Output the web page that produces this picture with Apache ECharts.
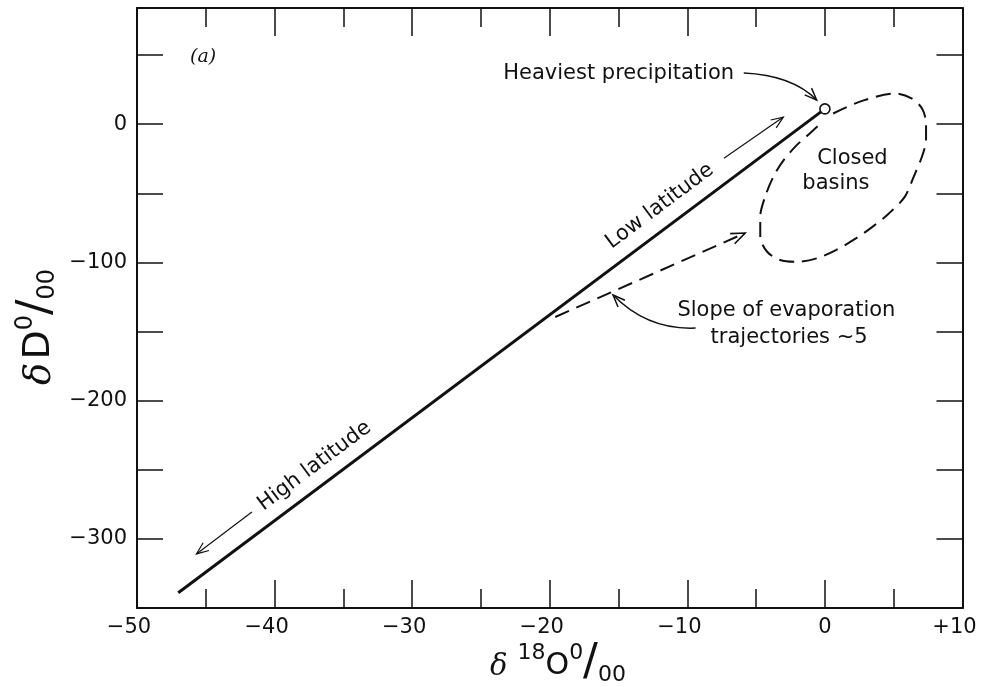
<!DOCTYPE html>
<html>
<head>
<meta charset="utf-8">
<script src="https://cdn.jsdelivr.net/npm/echarts@6/dist/echarts.min.js"></script>
<style>html,body{margin:0;padding:0;background:#fff}#main{width:991px;height:687px}</style>
</head>
<body>
<div id="main"></div>
<script>
// 轴刻度
var xTicks = [-50, -40, -30, -20, -10, 0, 10];
var xTickLabels = ['\u221250', '\u221240', '\u221230', '\u221220', '\u221210', '0', '+10'];
var yTicks = [-300, -200, -100, 0];
var yTickLabels = ['\u2212300', '\u2212200', '\u2212100', '0'];
// 曲线数据 (δ18O, δD)
var meteoricLine = [[-47, -339], [0, 11]];
var heaviestPoint = [[0, 11]];
var evapLine = [[-19.6, -139.5], [-5.8, -78.8]];
var closedBasin = [[0.6, 7.7], [2.7, 16.8], [5.1, 22.2], [6.3, 18.6], [7.05, 11.4], [7.35, 0.5], [7.35, -11.6],
    [7.05, -23.6], [6.45, -38.1], [5.8, -52.6], [4.65, -64.6], [3.45, -74.3], [2.25, -82.7], [0.8, -91.1],
    [-0.6, -97.1], [-2.05, -99.6], [-3.25, -98.3], [-4.2, -92.3], [-4.7, -81.5], [-4.7, -67.0], [-4.35, -52.6],
    [-3.75, -38.1], [-3.0, -26.0], [-2.05, -15.2], [-1.1, -6.7], [-0.3, 0.5]];

var FONT = '"DejaVu Sans", "Liberation Sans", sans-serif';
var ink = '#111';

var myChart = echarts.init(document.getElementById('main'));

function axisBase(pos, showLabel) {
    return {
        position: pos,
        type: 'value',
        axisLine: { show: true, onZero: false, lineStyle: { color: ink, width: 2 } },
        axisTick: { show: true, inside: true, length: 28, lineStyle: { color: ink, width: 1.5 } },
        splitLine: { show: false },
        axisLabel: { show: showLabel, color: ink, fontSize: 21, fontFamily: FONT, margin: 9 }
    };
}

var xBottom = axisBase('bottom', true);
xBottom.min = -50; xBottom.max = 10; xBottom.interval = 10;
xBottom.minorTick = { show: true, splitNumber: 2, length: 19, lineStyle: { color: ink, width: 1.5 } };
// 数字对准刻度，符号悬挂在左边
xBottom.axisLabel.formatter = function (v) {
    var i = xTicks.indexOf(v);
    if (i < 0) return '';
    var s = xTickLabels[i];
    return s.length > 1 && (s[0] === '\u2212' || s[0] === '+') ? '{n|' + s + '}{p| }' : '{n|' + s + '}';
};
xBottom.axisLabel.rich = {
    n: { fontSize: 21, fontFamily: FONT, color: ink },
    p: { fontSize: 21, width: 16 }
};
var xTop = axisBase('top', false);
xTop.min = -50; xTop.max = 10; xTop.interval = 10;
xTop.minorTick = { show: true, splitNumber: 2, length: 19, lineStyle: { color: ink, width: 1.5 } };

var yLeft = axisBase('left', true);
yLeft.min = -350; yLeft.max = 84; yLeft.interval = 50;
yLeft.axisTick.length = 26;
yLeft.axisLabel.margin = 10;
yLeft.axisLabel.formatter = function (v) {
    var i = yTicks.indexOf(v);
    return i < 0 ? '' : yTickLabels[i];
};
var yRight = axisBase('right', false);
yRight.min = -350; yRight.max = 84; yRight.interval = 50;
yRight.axisTick.length = 26;

var option = {
    backgroundColor: '#fff',
    animation: false,
    grid: { left: 137, right: 14, top: 8, bottom: 79, containLabel: false },
    xAxis: [xBottom, xTop],
    yAxis: [yLeft, yRight],
    series: [
        {
            type: 'line', data: meteoricLine, symbol: 'none',
            lineStyle: { color: ink, width: 3 }, z: 3
        },
        {
            type: 'line', data: evapLine, symbol: 'none',
            lineStyle: { color: ink, width: 2, type: [15, 8] }
        },
        {
            type: 'line', data: closedBasin, symbol: 'none', smooth: 0.3,
            lineStyle: { color: ink, width: 2, type: [15, 8] }
        },
        {
            type: 'scatter', data: heaviestPoint, symbol: 'circle', symbolSize: 10,
            itemStyle: { color: '#fff', borderColor: ink, borderWidth: 1.6, opacity: 1 }, z: 5
        }
    ]
};
myChart.setOption(option);

// 注释位置 (数据坐标)
var notes = [
    { text: '(a)', at: [-45.2, 48.4], font: 'italic 19px "DejaVu Serif", serif' },
    { text: 'Heaviest precipitation', at: [-6.6, 36.9], align: 'right' },
    { text: 'Closed', at: [2.0, -24.6] },
    { text: 'basins', at: [0.8, -42.7] },
    { text: 'Slope of evaporation', at: [-2.8, -134.5] },
    { text: 'trajectories ~5', at: [-2.6, -154.7] },
    { text: 'Low latitude', at: [-12.0, -59.3], rotate: true },
    { text: 'High latitude', at: [-37.1, -247.3], rotate: true }
];
var straightArrows = [
    { from: [-7.34, -24.6], to: [-3.02, 5.1], w: 1.2 },
    { from: [-41.65, -280.5], to: [-45.68, -310.9], w: 1.2 }
];
var curvedArrows = [
    { from: [-5.9, 36.9], ctrl: [-2.4, 35.4], to: [-0.6, 17.4] },
    { from: [-9.4, -147.5], ctrl: [-12.9, -149], to: [-15.4, -123.6] }
];

function px(p) { return myChart.convertToPixel({ gridIndex: 0 }, p); }
function head(tip, from, len, w) {
    var a = Math.atan2(tip[1] - from[1], tip[0] - from[0]);
    var a1 = a + Math.PI - 0.38, a2 = a + Math.PI + 0.38;
    return {
        type: 'polyline', silent: true,
        shape: { points: [[tip[0] + len * Math.cos(a1), tip[1] + len * Math.sin(a1)], tip, [tip[0] + len * Math.cos(a2), tip[1] + len * Math.sin(a2)]] },
        style: { stroke: ink, fill: null, lineWidth: w }
    };
}

// 轴标题的富文本样式
function titleRich(big, sup, slash) {
    var lh = slash + 8;
    return {
        d: { fontSize: big - 1, fontStyle: 'italic', fontFamily: '"DejaVu Serif", serif', fill: ink, lineHeight: lh, verticalAlign: 'middle', padding: [6, 0, 0, 0] },
        o: { fontSize: big, fontFamily: FONT, fill: ink, lineHeight: lh, verticalAlign: 'middle', padding: [4, 0, 0, 0] },
        s: { fontSize: sup, fontFamily: FONT, fill: ink, lineHeight: lh, verticalAlign: 'top', padding: [4, 0, 0, 0] },
        sl: { fontSize: slash, fontFamily: FONT, fill: ink, lineHeight: lh, verticalAlign: 'middle' },
        b: { fontSize: sup, fontFamily: FONT, fill: ink, lineHeight: lh, verticalAlign: 'bottom', padding: [0, 0, 4, 0] }
    };
}

var l0 = px(meteoricLine[0]), l1 = px(meteoricLine[1]);
var lineRot = Math.atan2(l0[1] - l1[1], l1[0] - l0[0]);
var graphics = [
    {
        type: 'text', x: 558, y: 664, silent: true,
        style: { text: '{d|\u03b4}   {s|18}{o|O}{s|0}{sl|/}{b|00}', rich: titleRich(30, 22, 44), align: 'center', verticalAlign: 'middle' }
    },
    {
        type: 'text', x: 37, y: 327, rotation: Math.PI / 2, silent: true,
        style: { text: '{d|\u03b4} {o|D}{s|0}{sl|/}{b|00}', rich: titleRich(38, 24, 46), align: 'center', verticalAlign: 'middle' }
    }
];
notes.forEach(function (n) {
    var p = px(n.at);
    graphics.push({
        type: 'text', x: p[0], y: p[1], rotation: n.rotate ? lineRot : 0, silent: true,
        style: { text: n.text, font: n.font || ('21px ' + FONT), fill: ink, align: n.align || 'center', verticalAlign: 'middle' }
    });
});
straightArrows.forEach(function (a) {
    var f = px(a.from), t = px(a.to);
    graphics.push({ type: 'line', silent: true, shape: { x1: f[0], y1: f[1], x2: t[0], y2: t[1] }, style: { stroke: ink, lineWidth: a.w } });
    graphics.push(head(t, f, 13, a.w));
});
curvedArrows.forEach(function (a) {
    var f = px(a.from), c = px(a.ctrl), t = px(a.to);
    graphics.push({ type: 'bezierCurve', silent: true, shape: { x1: f[0], y1: f[1], cpx1: c[0], cpy1: c[1], x2: t[0], y2: t[1] }, style: { stroke: ink, fill: null, lineWidth: 1.5 } });
    graphics.push(head(t, c, 13, 1.5));
});
// 蒸发线终点箭头
var e0 = px(evapLine[0]), e1 = px(evapLine[1]);
graphics.push(head(e1, e0, 15, 1.6));
myChart.setOption({ graphic: graphics });

window.addEventListener('resize', function () {
    myChart.resize();
});
</script>
</body>
</html>
